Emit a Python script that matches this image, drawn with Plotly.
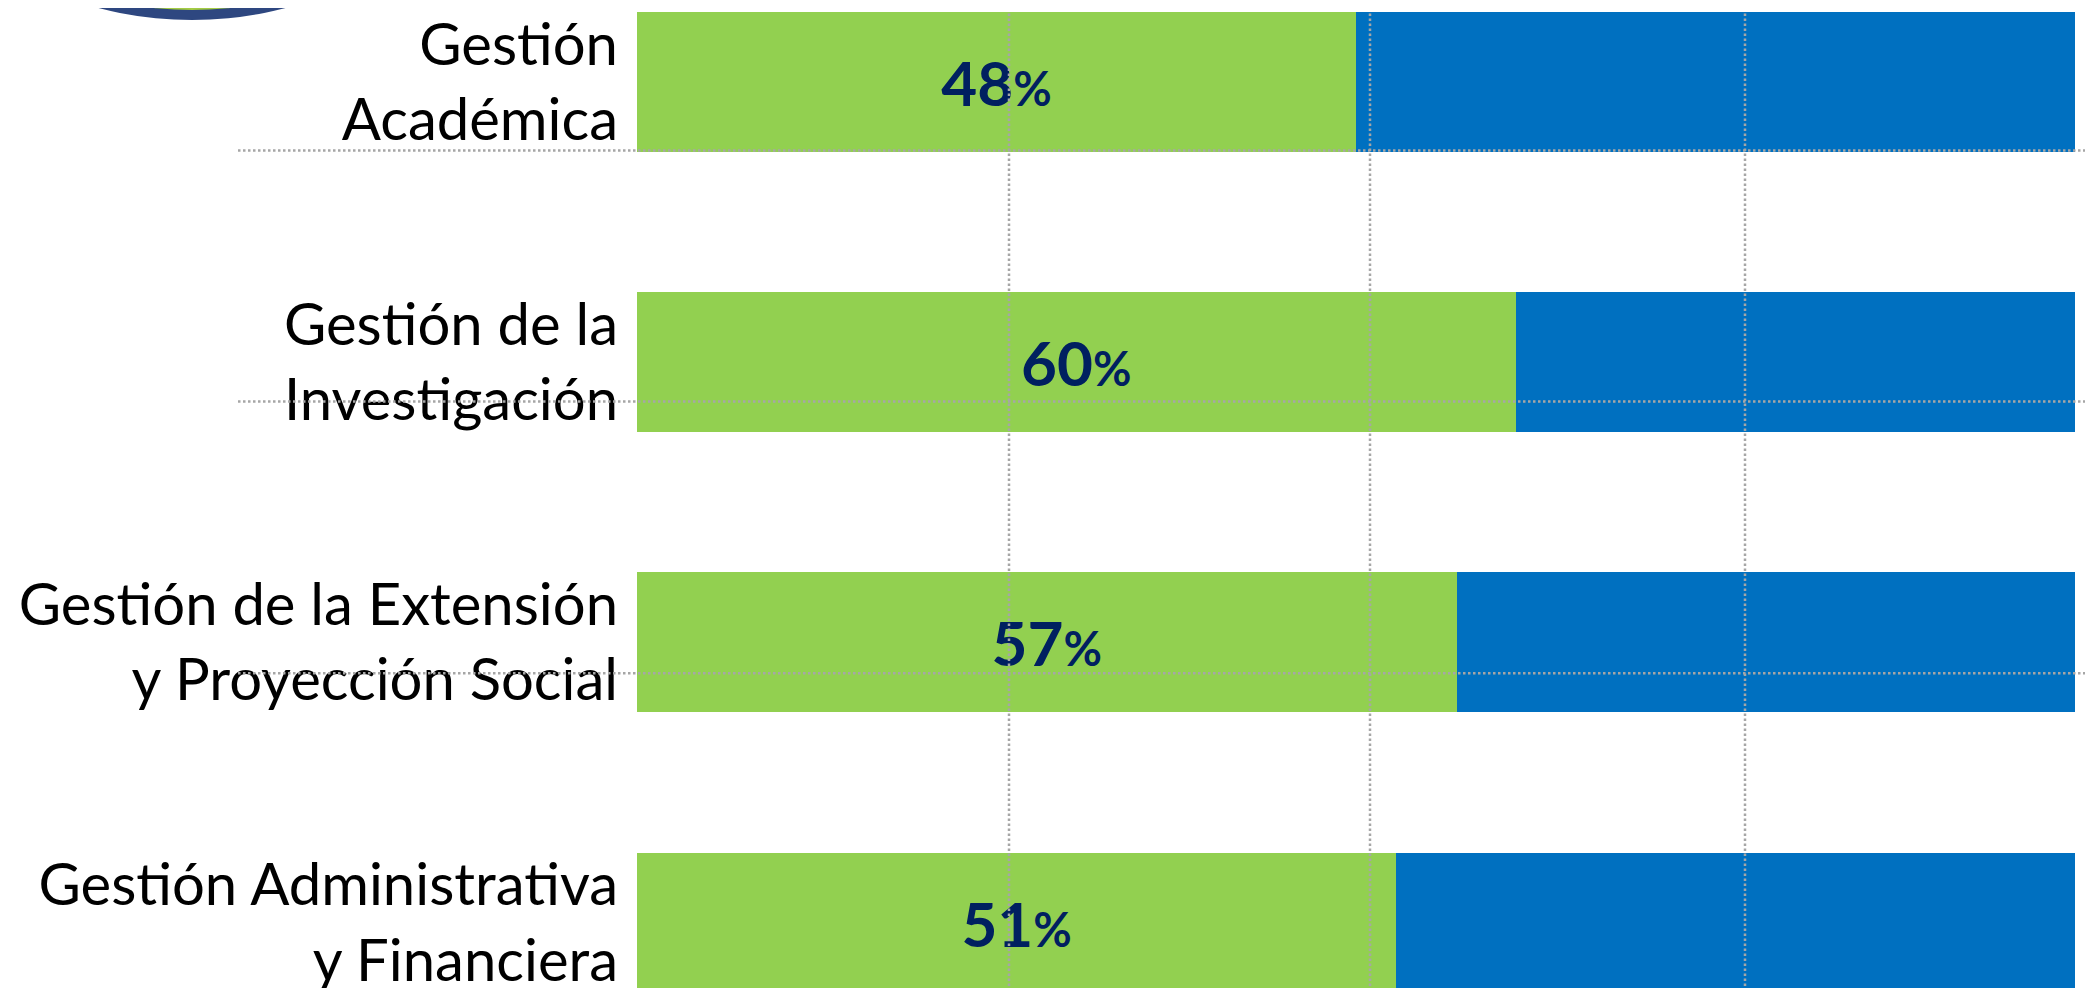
import plotly.graph_objects as go

# categories (top to bottom) and the two segments of each 100% bar
categories = [
    "Gestión<br>Académica",
    "Gestión de la<br>Investigación",
    "Gestión de la Extensión<br>y Proyección Social",
    "Gestión Administrativa<br>y Financiera",
]
green_values = [50.0, 61.1, 57.0, 52.8]
blue_values = [50.0, 38.9, 43.0, 47.2]
pct_labels = ["48", "60", "57", "51"]

W, H = 2093, 988
OFF = 8  # default page body margin
L, R = 637 - OFF, 2093 - (2075 - OFF)
GREEN = "#92D050"
BLUE = "#0070C0"
NAVY = "#002060"
GRID = "#A6A6A6"


# screen pixel -> paper fraction
def px_x(p):
    return (p - OFF - L) / (W - L - R)


def px_y(p):
    return 1 - (p - OFF) / H


label_text = [f"<b>{t}<span style='font-size:47px'>%</span></b>" for t in pct_labels]

fig = go.Figure()
fig.add_trace(go.Bar(y=categories, x=green_values, orientation="h",
                     marker=dict(color=GREEN, line=dict(width=0)), width=0.5,
                     text=label_text, textposition="inside", insidetextanchor="middle",
                     textangle=0, constraintext="none",
                     textfont=dict(family="Lato, sans-serif", size=62, color=NAVY)))
fig.add_trace(go.Bar(y=categories, x=blue_values, orientation="h",
                     marker=dict(color=BLUE, line=dict(width=0)), width=0.5))

shapes = []
# logo ring peeking from the top left
shapes.append(dict(type="circle", xref="paper", yref="paper", layer="above",
                   x0=px_x(192 - 370), x1=px_x(192 + 370), y0=px_y(16), y1=px_y(16 - 740),
                   fillcolor="#2E4780", line=dict(width=0)))
shapes.append(dict(type="circle", xref="paper", yref="paper", layer="above",
                   x0=px_x(192 - 360), x1=px_x(192 + 360), y0=px_y(6), y1=px_y(6 - 720),
                   fillcolor="#A4CC44", line=dict(width=0)))
# dotted guide lines drawn over the bars
for gx in [1009, 1370, 1745]:
    shapes.append(dict(type="line", xref="paper", yref="paper", layer="above",
                       x0=px_x(gx), x1=px_x(gx), y0=0, y1=1,
                       line=dict(color=GRID, width=2.5, dash="2.5px,2.5px")))
for gy in [147, 399, 672]:
    shapes.append(dict(type="line", xref="paper", yref="paper", layer="above",
                       x0=px_x(238), x1=px_x(W + OFF), y0=px_y(gy), y1=px_y(gy),
                       line=dict(color=GRID, width=2.5, dash="2.5px,2.5px")))

fig.update_layout(
    barmode="stack",
    width=W, height=H,
    margin=dict(l=L, r=R, t=0, b=0, pad=0),
    paper_bgcolor="white", plot_bgcolor="white",
    showlegend=False,
    shapes=shapes,
    xaxis=dict(range=[0, 100], visible=False, showgrid=False, zeroline=False),
    yaxis=dict(type="category", categoryorder="array", categoryarray=categories,
               range=[3.262, -0.25], showgrid=False, zeroline=False, showline=False,
               ticks="", ticklabelstandoff=18,
               tickfont=dict(family="Lato, sans-serif", size=58, color="black")),
)

fig.write_html("out.html")
